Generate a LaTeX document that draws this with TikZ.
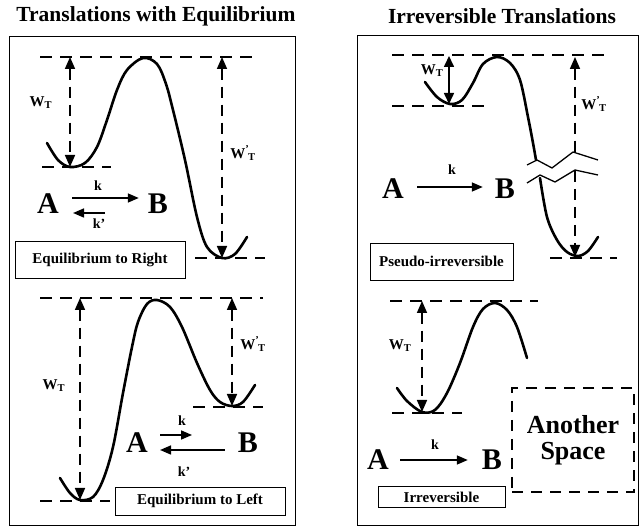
\documentclass[tikz,border=0pt]{standalone}
\usepackage{fontspec}
\setmainfont{Liberation Serif}
\usetikzlibrary{arrows.meta}

\tikzset{
  panel/.style={draw,line width=0.8pt},
  well/.style={line width=2.6pt,line cap=round},
  lvl/.style={line width=1.8pt,dash pattern=on 12pt off 8pt},
  barrier/.style={line width=1.6pt,dash pattern=on 11pt off 7pt,
    {Triangle[length=12pt,width=10pt]}-{Triangle[length=12pt,width=10pt]}},
  rxn/.style={line width=1.6pt,-{Triangle[length=11pt,width=9pt]}},
  tag/.style={draw,line width=0.7pt,inner sep=0pt,font=\bfseries\fontsize{15}{17}\selectfont},
  spc/.style={inner sep=0pt,font=\bfseries\fontsize{30}{30}\selectfont},
  lbl/.style={inner sep=0pt,font=\bfseries\fontsize{15}{17}\selectfont},
  rate/.style={inner sep=0pt,font=\bfseries\fontsize{14}{16}\selectfont},
  ttl/.style={inner sep=0pt,font=\bfseries\fontsize{21.5}{24}\selectfont},
  zig/.style={line width=1.3pt}
}
\newcommand{\WT}{W\textsubscript{T}}
\newcommand{\WTp}{W\textsuperscript{’}\kern-1pt\textsubscript{T}}

\begin{document}
\begin{tikzpicture}[x=1pt,y=-1pt]
  \useasboundingbox (0,0) rectangle (641,526);
  % titles and panels
  \node[ttl] (ttlL) at (156,16) {Translations with Equilibrium};
  \node[ttl] (ttlR) at (502,16) {Irreversible Translations};
  \draw[panel] (9,36) rectangle (295,525);
  \draw[panel] (357,35) rectangle (638,525);

  % --- equilibrium to right
  \draw[lvl] (40,57) -- (258,57);
  \draw[lvl] (42,167) -- (111,167);
  \draw[lvl] (195,258) -- (265,258);
  \draw[well] plot[smooth,tension=0.55] coordinates {(47,143) (58,160) (70,167) (85,163) (97,147)
    (107,120) (117,90) (127,70) (143,58) (157,64) (166,84) (173,110) (185,160) (197,217)
    (207,247) (222,258) (235,254) (247,237)};
  \coordinate (r1t) at (70,57);  \coordinate (r1b) at (70,167);
  \coordinate (r2t) at (222,57); \coordinate (r2b) at (222,258);
  \draw[barrier] (r1t) -- (r1b);
  \draw[barrier] (r2t) -- (r2b);
  \node[lbl] (wr1) at (41,103) {\WT};
  \node[lbl] (wr2) at (243,153) {\WTp};
  \node[spc] (A1) at (48,204) {A};
  \node[spc] (B1) at (158,204) {B};
  \draw[rxn] ([xshift=13pt,yshift=6pt]A1.east) -- ([xshift=-9pt,yshift=6pt]B1.west);
  \draw[rxn] ([xshift=46pt,yshift=-9pt]A1.east) -- ([xshift=14pt,yshift=-9pt]A1.east);
  \node[rate] (k1) at (98,186) {k};
  \node[rate] (kp1) at (99,224) {k’};
  \node[tag,minimum width=170pt,minimum height=37pt] (eqR) at (100,259.5) {Equilibrium to Right};

  % --- equilibrium to left
  \draw[lvl] (40,298) -- (263,298);
  \draw[lvl] (40,501) -- (110,501);
  \draw[lvl] (193,407) -- (263,407);
  \draw[well] plot[smooth,tension=0.55] coordinates {(60,478) (70,493) (80,500) (93,497) (103,480)
    (113,447) (123,393) (132,347) (138,322) (147,304) (157,300) (170,307) (182,327)
    (197,363) (210,390) (220,402) (232,406) (243,402) (255,385)};
  \coordinate (l1t) at (80,298);  \coordinate (l1b) at (80,500);
  \coordinate (l2t) at (232,298); \coordinate (l2b) at (232,406);
  \draw[barrier] (l1t) -- (l1b);
  \draw[barrier] (l2t) -- (l2b);
  \node[lbl] (wl1) at (54,386) {\WT};
  \node[lbl] (wl2) at (253,344) {\WTp};
  \node[spc] (A2) at (137,443) {A};
  \node[spc] (B2) at (248,443) {B};
  \draw[rxn] ([xshift=12pt,yshift=8pt]A2.east) -- ([xshift=44pt,yshift=8pt]A2.east);
  \draw[rxn] ([xshift=-13pt,yshift=-7pt]B2.west) -- ([xshift=12pt,yshift=-7pt]A2.east);
  \node[rate] (k2) at (182,421) {k};
  \node[rate] (kp2) at (184,472) {k’};
  \node[tag,minimum width=170pt,minimum height=28pt] (eqL) at (200,501) {Equilibrium to Left};

  % --- pseudo-irreversible
  \draw[lvl] (392,55) -- (610,55);
  \draw[lvl] (392,106) -- (490,106);
  \draw[lvl] (550,258) -- (617,258);
  \draw[well] plot[smooth,tension=0.55] coordinates {(425,82) (437,97) (450,104) (462,100) (473,83)
    (483,64) (497,57) (510,63) (520,80) (528,117) (533,143) (536,160)};
  \draw[well] plot[smooth,tension=0.55] coordinates {(540,178) (547,217) (557,240) (567,252)
    (578,256) (588,251) (598,237)};
  \coordinate (p1t) at (449,56); \coordinate (p1b) at (449,104);
  \draw[line width=1.6pt,{Triangle[length=11pt,width=10pt]}-{Triangle[length=11pt,width=10pt]}] (p1t) -- (p1b);
  \coordinate (p2t) at (575,57); \coordinate (p2m) at (575,153);
  \coordinate (p2n) at (575,171); \coordinate (p2b) at (575,257);
  \draw[barrier,{Triangle[length=12pt,width=10pt]}-] (p2t) -- (p2m);
  \draw[barrier,-{Triangle[length=12pt,width=10pt]}] (p2n) -- (p2b);
  \draw[zig] (527,165) -- (537,160) -- (552,168) -- (573,152) -- (598,160);
  \draw[zig] (527,183) -- (540,175) -- (555,182) -- (575,170) -- (598,175);
  \node[lbl] (wp1) at (432,71) {\WT};
  \node[lbl] (wp2) at (594,104) {\WTp};
  \node[spc] (A3) at (393,189) {A};
  \node[spc] (B3) at (505,189) {B};
  \draw[rxn] ([xshift=13pt,yshift=2pt]A3.east) -- ([xshift=-12pt,yshift=2pt]B3.west);
  \node[rate] (k3) at (452,170) {k};
  \node[tag,minimum width=143pt,minimum height=37pt] (psI) at (441.5,261.5) {Pseudo-irreversible};

  % --- irreversible
  \draw[lvl] (390,301) -- (538,301);
  \draw[lvl] (392,413) -- (462,413);
  \draw[well] plot[smooth,tension=0.55] coordinates {(397,388) (407,401) (422,412) (435,410)
    (447,393) (460,363) (473,327) (483,309) (495,303) (507,310) (517,327) (527,358)};
  \coordinate (i1t) at (422,301); \coordinate (i1b) at (422,412);
  \draw[barrier] (i1t) -- (i1b);
  \node[lbl] (wi1) at (400,346) {\WT};
  \node[spc] (A4) at (378,460) {A};
  \node[spc] (B4) at (492,460) {B};
  \draw[rxn] ([xshift=11pt]A4.east) -- ([xshift=-14pt]B4.west);
  \node[rate] (k4) at (435,445) {k};
  \node[tag,minimum width=127pt,minimum height=21pt] (irr) at (441.5,497) {Irreversible};
  \node[draw,line width=1.8pt,dash pattern=on 11pt off 8pt,minimum width=122pt,minimum height=104pt,
    align=center,font=\bfseries\fontsize{26}{26}\selectfont] (asp) at (573,440) {Another\\Space};
\end{tikzpicture}
\end{document}
